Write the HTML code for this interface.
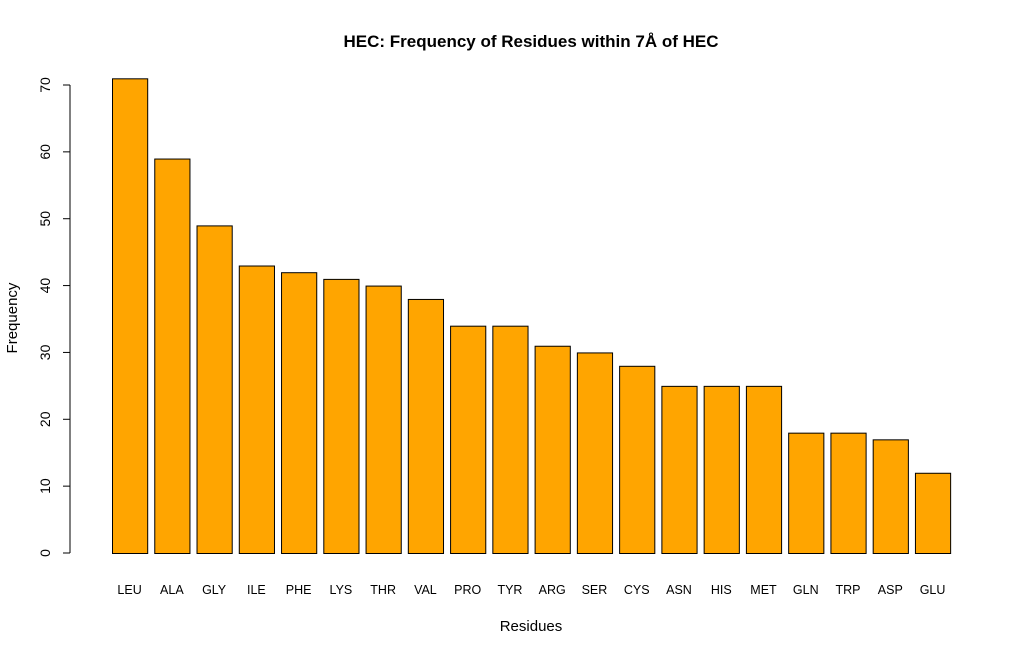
<!DOCTYPE html>
<html><head><meta charset="utf-8"><style>
body{margin:0;background:#fff;}
svg{display:block;font-family:"Liberation Sans",Arial,sans-serif;}
</style></head><body>
<svg id="chart" width="1024" height="656">
<text x="531" y="47" text-anchor="middle" font-size="17" font-weight="bold">HEC: Frequency of Residues within 7Å of HEC</text>
<text x="531" y="631" text-anchor="middle" font-size="15">Residues</text>
<text transform="translate(17,318) rotate(-90)" text-anchor="middle" font-size="15">Frequency</text>
<g id="yaxis"></g>
<g id="bars"></g>
<g id="xlabels"></g>
</svg>
<script>
const categories=["LEU","ALA","GLY","ILE","PHE","LYS","THR","VAL","PRO","TYR","ARG","SER","CYS","ASN","HIS","MET","GLN","TRP","ASP","GLU"];
const values=[71,59,49,43,42,41,40,38,34,34,31,30,28,25,25,25,18,18,17,12];
const yTicks=[0,10,20,30,40,50,60,70];
const NS="http://www.w3.org/2000/svg";
const y0=553, yPer=(553-85)/70;
const y=v=>y0-v*yPer;
const step=42.26, bw=35.2, x0=112;
const xL=i=>x0+i*step;
function mk(t,a,p){const e=document.createElementNS(NS,t);for(const k in a)e.setAttribute(k,a[k]);p.appendChild(e);return e;}
const ya=document.getElementById('yaxis');
const axl=mk('line',{x1:70,x2:70,y1:y(yTicks[0]),y2:y(yTicks[yTicks.length-1]),stroke:'#000'},ya);


yTicks.forEach(t=>{
 const l=mk('line',{x1:63,x2:70,y1:y(t),y2:y(t),stroke:'#000'},ya);
 
 
 const tx=mk('text',{transform:`translate(50,${y(t)}) rotate(-90)`,'text-anchor':'middle','font-size':14},ya);
 tx.textContent=t;
 
 
});
const bg=document.getElementById('bars'), xg=document.getElementById('xlabels');
values.forEach((v,i)=>{
 const r=mk('rect',{x:xL(i)+0.5,y:y(v)+0.5,width:bw,height:y0-y(v),fill:'#FFA500',stroke:'#000','stroke-width':1},bg);
 
 
 const t=mk('text',{x:xL(i)+bw/2,y:594,'text-anchor':'middle','font-size':12.5},xg);
 t.textContent=categories[i];
 
 
});
</script>
</body></html>
